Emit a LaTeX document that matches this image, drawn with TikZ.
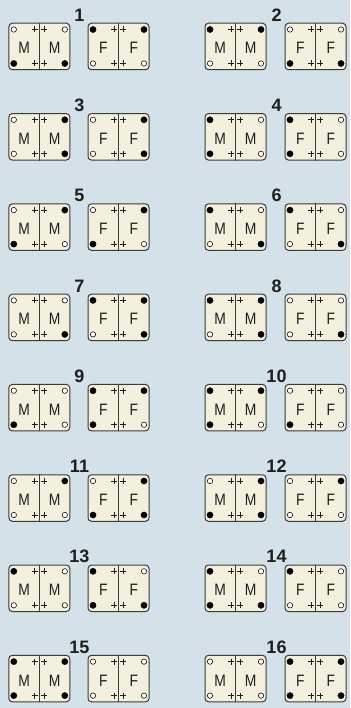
\documentclass[tikz,border=0pt]{standalone}
\usepackage{fontspec}
\setmainfont{Liberation Sans}
\definecolor{bg}{HTML}{D4E1E9}
\definecolor{cardfill}{HTML}{F4F0DE}
\definecolor{edge}{HTML}{3A3A3A}
\definecolor{ink}{HTML}{1E1E1E}
\tikzset{
  card/.style={draw=edge, fill=cardfill, line width=1pt, rounded corners=3.5pt,
    minimum width=61pt, minimum height=46.5pt, inner sep=0pt},
  pin1/.style={circle, draw=black, fill=black, line width=0.4pt, minimum size=6.2pt, inner sep=0pt},
  pin0/.style={circle, draw=black, fill=white, line width=0.55pt, minimum size=5.4pt, inner sep=0pt},
  lett/.style={font=\fontsize{16.5}{16.5}\selectfont, text=ink, inner sep=0pt},
  num/.style={font=\bfseries\fontsize{18}{18}\selectfont, text=ink, inner sep=0pt},
  plusmark/.style={line width=0.7pt, draw=ink},
  divider/.style={draw=edge, line width=0.8pt}
}
\newcommand\mycard[8]{%
  \node[card] (#1) at (#2,#3) {};
  \draw[divider] (#1.north) -- (#1.south);
  \node[lett] (#1-la) at ({#2-15.25},{#3+1.8}) {\scalebox{0.84}[1]{#4}};
  \node[lett] (#1-lb) at ({#2+15.25},{#3+1.8}) {\scalebox{0.84}[1]{#4}};
  \node[pin#5] (#1-tl) at ({#2-25.5},{#3-17}) {};
  \node[pin#6] (#1-tr) at ({#2+25.5},{#3-17}) {};
  \node[pin#7] (#1-bl) at ({#2-25.5},{#3+17}) {};
  \node[pin#8] (#1-br) at ({#2+25.5},{#3+17}) {};
  \draw[plusmark] ({#2-7.5},{#3-17}) -- ++(6,0) ({#2-4.5},{#3-20}) -- ++(0,6);
  \draw[plusmark] ({#2+1.8},{#3-17}) -- ++(6,0) ({#2+4.8},{#3-20}) -- ++(0,6);
  \draw[plusmark] ({#2-7.5},{#3+17}) -- ++(6,0) ({#2-4.5},{#3+14}) -- ++(0,6);
  \draw[plusmark] ({#2+1.8},{#3+17}) -- ++(6,0) ({#2+4.8},{#3+14}) -- ++(0,6);
}
\begin{document}
\begin{tikzpicture}[x=1pt, y=-1pt]
  \fill[bg] (0,0) rectangle (350,708);
  \useasboundingbox (0,0) rectangle (350,708);
  \foreach \k/\a/\b/\c/\d/\e/\f/\g/\h in {
    1/0/0/1/1/1/1/0/0,
    2/1/1/0/0/0/0/1/1,
    3/0/1/0/1/0/1/0/1,
    4/1/0/1/0/1/0/1/0,
    5/0/1/1/0/0/1/1/0,
    6/1/0/0/1/1/0/0/1,
    7/0/0/0/1/1/1/0/1,
    8/1/1/0/1/0/0/0/1,
    9/0/0/1/0/1/1/1/0,
    10/1/1/1/0/0/0/1/0,
    11/0/1/0/0/0/1/1/1,
    12/0/1/1/1/0/1/0/0,
    13/1/0/0/0/1/0/1/1,
    14/1/0/1/1/1/0/0/0,
    15/1/1/1/1/0/0/0/0,
    16/0/0/0/0/1/1/1/1}{
    \pgfmathtruncatemacro\row{(\k-1)/2}
    \pgfmathtruncatemacro\col{mod(\k-1,2)}
    \pgfmathsetmacro\cy{46.5+90.3*\row}
    \pgfmathsetmacro\mx{\col==0 ? 39.3 : 235.5}
    \pgfmathsetmacro\fx{\col==0 ? 118.5 : 315.5}
    \pgfmathsetmacro\nx{\col==0 ? 79.5 : 276.5}
    \mycard{m\k}{\mx}{\cy}{M}{\a}{\b}{\c}{\d}
    \mycard{f\k}{\fx}{\cy}{F}{\e}{\f}{\g}{\h}
    \node[num] (n\k) at (\nx,{\cy-31.5}) {\k};
  }
\end{tikzpicture}
\end{document}
